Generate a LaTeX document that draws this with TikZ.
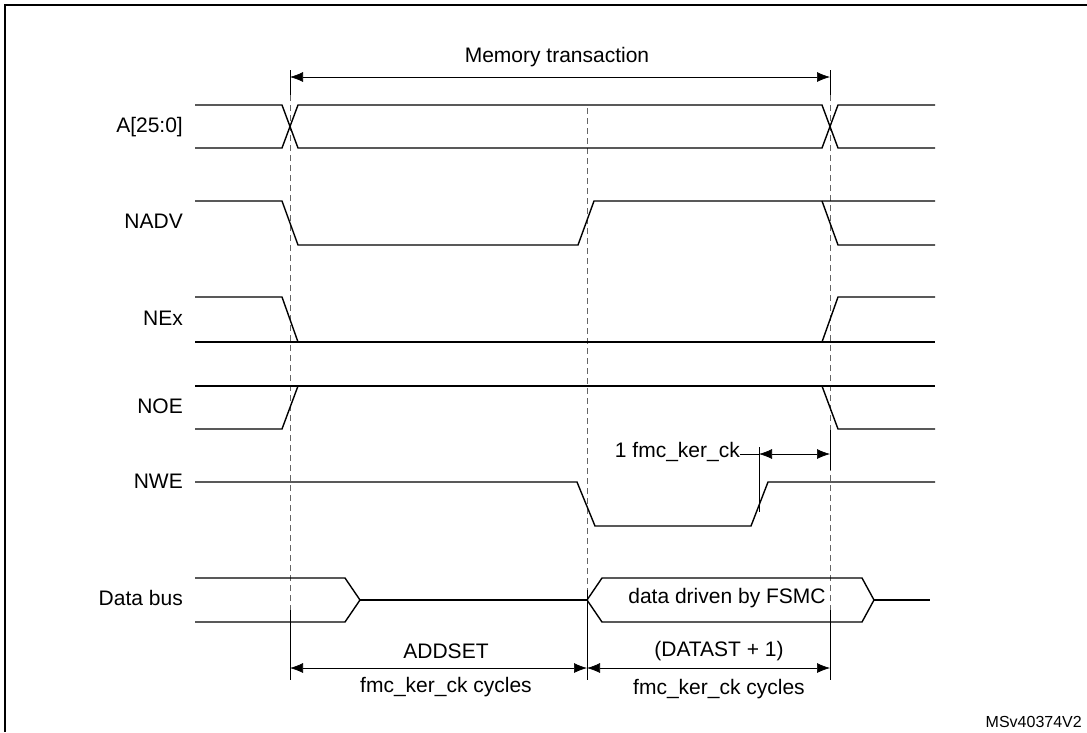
\documentclass[tikz,border=0pt]{standalone}
\usepackage{fontspec}
\setmainfont{Liberation Sans}
\usetikzlibrary{arrows.meta}
\tikzset{
  wave/.style={line width=1.4pt},
  guide/.style={line width=0.7pt,dash pattern=on 6pt off 4pt,gray!80!black},
  tick/.style={line width=0.8pt},
  dim/.style={line width=0.7pt,{Latex[length=13pt,width=10pt]}-{Latex[length=13pt,width=10pt]}},
  lbl/.style={font=\fontsize{21}{25}\selectfont,inner sep=2pt},
  sig/.style={lbl,anchor=east}
}
\begin{document}
\begin{tikzpicture}[x=1pt,y=-1pt]
		\useasboundingbox (0,0) rectangle (1087,732);
		\draw[line width=1.5pt] (5,732) -- (5,5) -- (1087,5);
		% time references
		\draw[guide] (290,95) -- (290,610);
		\draw[guide] (587,108) -- (587,590);
		\draw[guide] (830,95) -- (830,610);
		% signal names
		\node[sig] (na) at (185,127) {A[25:0]};
		\node[sig] (nadv) at (185,221) {NADV};
		\node[sig] (nex) at (185,318) {NEx};
		\node[sig] (noe) at (185,406) {NOE};
		\node[sig] (nwe) at (185,481) {NWE};
		\node[sig] (ndb) at (185,598) {Data bus};
		% A[25:0]
		\draw[wave] (195,105) -- (282,105) -- (298,148) -- (822,148) -- (838,105) -- (935,105);
		\draw[wave] (195,148) -- (282,148) -- (298,105) -- (822,105) -- (838,148) -- (935,148);
		% NADV
		\draw[wave] (195,201) -- (282,201) -- (298,245) -- (578,245) -- (594,201) -- (935,201);
		\draw[wave] (822,201) -- (838,245) -- (935,245);
		% NEx
		\draw[wave] (195,297) -- (282,297) -- (298,342);
		\draw[wave] (195,342) -- (935,342);
		\draw[wave] (822,342) -- (838,297) -- (935,297);
		% NOE
		\draw[wave] (195,429) -- (282,429) -- (298,386);
		\draw[wave] (195,386) -- (935,386);
		\draw[wave] (822,386) -- (838,429) -- (935,429);
		% NWE
		\draw[wave] (195,482) -- (577,482) -- (595,526) -- (751,526) -- (768,482) -- (935,482);
		% Data bus
		\draw[wave] (195,578) -- (345,578) -- (360,600) -- (345,622) -- (195,622);
		\draw[wave] (360,600) -- (587,600);
		\draw[wave] (587,600) -- (602,578) -- (862,578) -- (874,600) -- (862,622) -- (602,622) -- cycle;
		\draw[wave] (874,600) -- (930,600);
		\node[lbl] (drv) at (727,598) {data driven by FSMC};
		% memory transaction
		\draw[tick] (290,70) -- (290,95) (830,70) -- (830,95);
		\coordinate (mt1) at (290,77);
		\coordinate (mt2) at (830,77);
		\draw[dim] (mt1) -- (mt2);
		\node[lbl] (mt) at (557,57) {Memory transaction};
		% 1 fmc_ker_ck
		\draw[tick] (759,447) -- (759,512);
		\draw[tick] (830,430) -- (830,470);
		\coordinate (ck1) at (759,454);
		\coordinate (ck2) at (830,454);
		\draw[dim] (ck1) -- (ck2);
		\node[lbl,anchor=east] (ck) at (742,452) {1 fmc\_ker\_ck};
		\draw[tick] (ck.east) ++(-2,2) -- (ck1);
		% bottom durations
		\draw[tick] (290,610) -- (290,680) (587,590) -- (587,680) (830,610) -- (830,680);
		\coordinate (b1) at (290,668);
		\coordinate (b2) at (587,668);
		\coordinate (b3) at (830,668);
		\draw[dim] (b1) -- (b2);
		\draw[dim] (b2) -- (b3);
		\node[lbl] (as) at (446,651) {ADDSET};
		\node[lbl] (asc) at (446,687) {fmc\_ker\_ck cycles};
		\node[lbl] (ds) at (719,651) {(DATAST + 1)};
		\node[lbl] (dsc) at (719,689) {fmc\_ker\_ck cycles};
		\node[anchor=east,inner sep=0pt,font=\fontsize{16}{19}\selectfont] (ref) at (1082,722) {MSv40374V2};
	\end{tikzpicture}
\end{document}
